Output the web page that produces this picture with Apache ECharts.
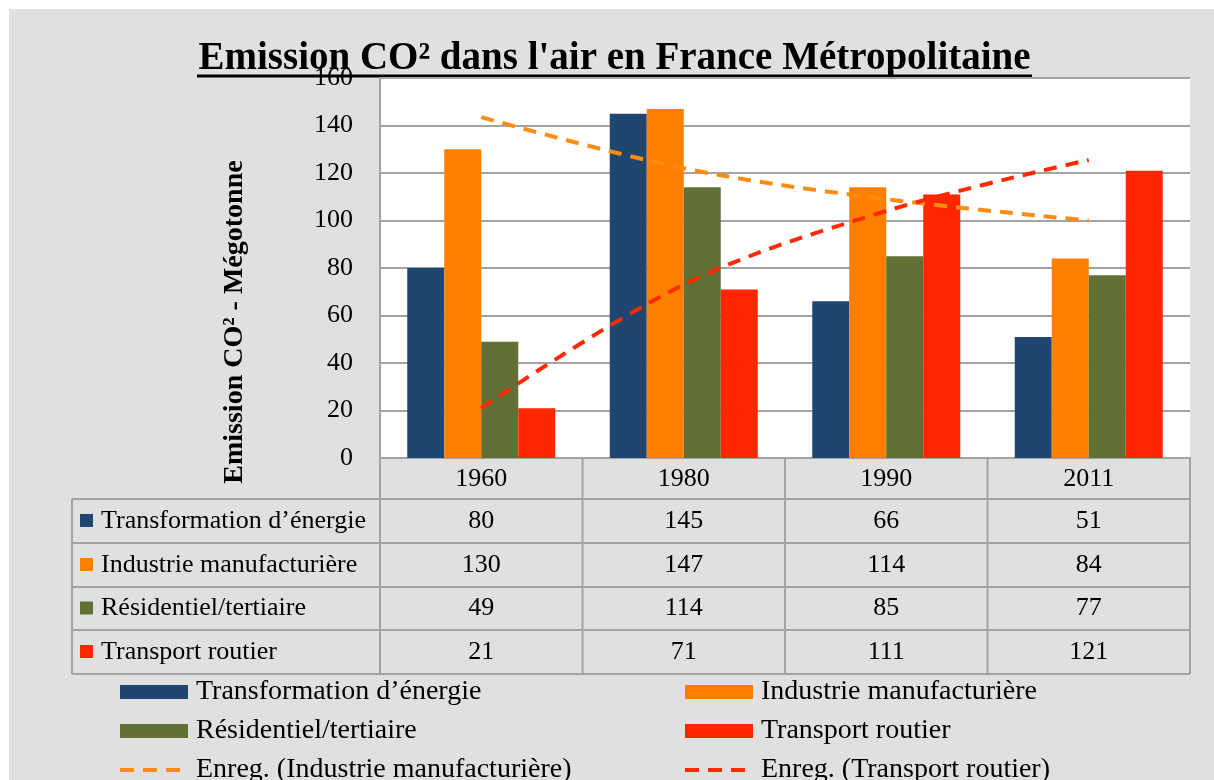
<!DOCTYPE html>
<html>
<head>
<meta charset="utf-8">
<script src="https://cdn.jsdelivr.net/npm/echarts@6/dist/echarts.min.js"></script>
<style>
  html, body { margin: 0; padding: 0; background: #fff; overflow: hidden; }
  #main { position: absolute; left: 9px; top: 9px; width: 1205px; height: 771px; }
</style>
</head>
<body>
<div id="main"></div>
<script>
// data
const years = ['1960', '1980', '1990', '2011'];
const seriesNames = ['Transformation d’énergie', 'Industrie manufacturière', 'Résidentiel/tertiaire', 'Transport routier'];
const energie = [80, 145, 66, 51];
const industrie = [130, 147, 114, 84];
const residentiel = [49, 114, 85, 77];
const transport = [21, 71, 111, 121];
const trendIndustrie = [143.5, 122, 109, 100];
const trendTransport = [21, 73, 104, 125.5];
const trendNames = ['Enreg. (Industrie manufacturière)', 'Enreg. (Transport routier)'];
const colors = ['#1f4670', '#ff7f00', '#617136', '#ff2600'];
const trendColors = ['#ff8c10', '#ff2a00'];

var chartDom = document.getElementById('main');
var myChart = echarts.init(chartDom);
var option;

var W = 1205, H = 771;
var gridLeft = 371, gridRight = 24, gridTop = 69, gridBottom = 322;
var plotRight = W - gridRight;
var colW = (plotRight - gridLeft) / years.length;
var tableLeft = 63;
var rowTops = [490, 534, 578, 621, 665];
var lineColor = '#a3a3a3';
var serif = '"Liberation Serif", "Times New Roman", serif';
var allValues = [energie, industrie, residentiel, transport];

// table drawn below the plot
let graphics = [];
function hLine(x1, x2, y) {
  graphics.push({ type: 'line', shape: { x1: x1, y1: y, x2: x2, y2: y }, style: { stroke: lineColor, lineWidth: 2 } });
}
function vLine(x, y1, y2) {
  graphics.push({ type: 'line', shape: { x1: x, y1: y1, x2: x, y2: y2 }, style: { stroke: lineColor, lineWidth: 2 } });
}
for (let r = 0; r < rowTops.length; r++) hLine(tableLeft, plotRight, rowTops[r]);
vLine(tableLeft, rowTops[0], rowTops[4]);
for (let c = 0; c <= years.length; c++) vLine(gridLeft + c * colW, H - gridBottom, rowTops[4]);

for (let r = 0; r < seriesNames.length; r++) {
  let cy = (rowTops[r] + rowTops[r + 1]) / 2;
  graphics.push({ type: 'rect', shape: { x: 71, y: cy - 7, width: 13, height: 13 }, style: { fill: colors[r] } });
  graphics.push({
    type: 'text', x: 92, y: cy,
    style: { text: seriesNames[r], font: '26px ' + serif, fill: '#000', textAlign: 'left', textVerticalAlign: 'middle', align: 'left', verticalAlign: 'middle' }
  });
  for (let c = 0; c < years.length; c++) {
    graphics.push({
      type: 'text', x: gridLeft + (c + 0.5) * colW, y: cy,
      style: { text: String(allValues[r][c]), font: '26px ' + serif, fill: '#000', textAlign: 'center', textVerticalAlign: 'middle', align: 'center', verticalAlign: 'middle' }
    });
  }
}

// title with underline
graphics.push({
  type: 'text', x: 605.5, y: 50,
  style: { text: 'Emission CO² dans l\'air en France Métropolitaine', font: 'bold 39px ' + serif, fill: '#000', textAlign: 'center', textVerticalAlign: 'middle', align: 'center', verticalAlign: 'middle' }
});
graphics.push({ type: 'line', shape: { x1: 188, y1: 67, x2: 1023, y2: 67 }, style: { stroke: '#000', lineWidth: 3 } });

// y axis name
graphics.push({
  type: 'text', x: 226, y: 313, rotation: Math.PI / 2,
  style: { text: 'Emission CO² - Mégotonne', font: 'bold 28px ' + serif, fill: '#000', textAlign: 'center', textVerticalAlign: 'middle', align: 'center', verticalAlign: 'middle' }
});

let barSeries = [];
for (let i = 0; i < seriesNames.length; i++) {
  barSeries.push({
    name: seriesNames[i],
    type: 'bar',
    barWidth: 37,
    barGap: '0%',
    itemStyle: { color: colors[i] },
    data: allValues[i]
  });
}
let trendSeries = [trendIndustrie, trendTransport].map(function (d, i) {
  return {
    name: trendNames[i],
    type: 'line',
    smooth: 0.35,
    symbol: 'none',
    z: 5,
    lineStyle: { color: trendColors[i], width: 4, type: [13, 9] },
    itemStyle: { color: trendColors[i] },
    data: d
  };
});

var legendText = { fontFamily: serif, fontSize: 28, color: '#000', padding: [0, 0, 0, 3] };
function makeLegend(left, names) {
  return {
    orient: 'vertical', left: left, top: 669, height: 150, padding: 0,
    itemWidth: 68, itemHeight: 14, itemGap: 11,
    textStyle: legendText,
    data: [
      { name: names[0], icon: 'rect' },
      { name: names[1], icon: 'rect' },
      { name: names[2], itemStyle: { opacity: 0 }, lineStyle: { width: 4, type: [14, 9] } }
    ]
  };
}

option = {
  backgroundColor: '#e0e0e0',
  animation: false,
  grid: { left: gridLeft, right: gridRight, top: gridTop, bottom: gridBottom, backgroundColor: '#fff', show: true, borderWidth: 0 },
  legend: [
    makeLegend(109, [seriesNames[0], seriesNames[2], trendNames[0]]),
    makeLegend(674, [seriesNames[1], seriesNames[3], trendNames[1]])
  ],
  xAxis: {
    type: 'category',
    data: years,
    axisLine: { lineStyle: { color: lineColor, width: 2 } },
    axisTick: { show: false },
    axisLabel: { fontFamily: serif, fontSize: 26, color: '#000', margin: 8 }
  },
  yAxis: {
    type: 'value',
    min: 0,
    max: 160,
    interval: 20,
    axisLine: { show: true, lineStyle: { color: lineColor, width: 2 } },
    axisTick: { show: false },
    splitLine: { lineStyle: { color: lineColor, width: 2 } },
    axisLabel: { fontFamily: serif, fontSize: 26, color: '#000', margin: 27 }
  },
  graphic: graphics,
  series: barSeries.concat(trendSeries)
};

option && myChart.setOption(option);
</script>
</body>
</html>
